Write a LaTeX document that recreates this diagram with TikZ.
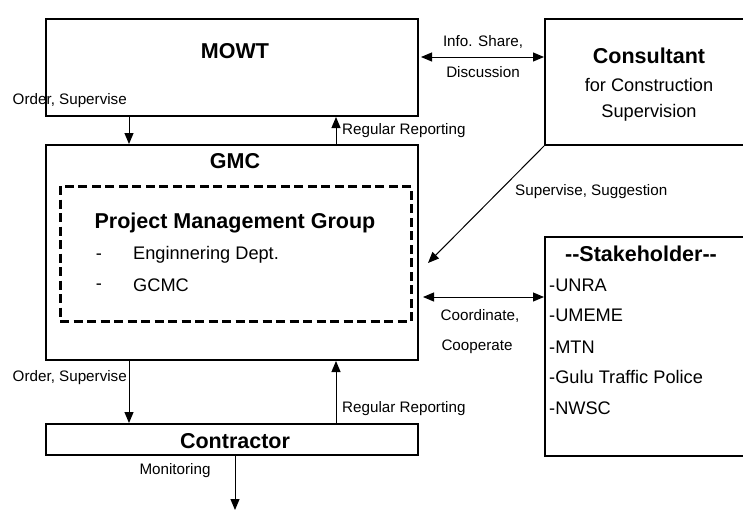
\documentclass[tikz,border=0pt]{standalone}
\usepackage{fontspec}
\setmainfont{Liberation Sans}
\usetikzlibrary{arrows.meta}
\begin{document}
\begin{tikzpicture}[x=1pt,y=-1pt,
  box/.style={draw, line width=2pt, inner sep=0pt},
  pmgbox/.style={draw, line width=3pt, dash pattern=on 9pt off 4.5pt, inner sep=0pt},
  title/.style={font=\bfseries\fontsize{21.5}{25}\selectfont, inner sep=0pt},
  body/.style={font=\fontsize{18.2}{21}\selectfont, inner sep=0pt},
  lab/.style={font=\fontsize{15.2}{18}\selectfont, inner sep=0pt},
  arr/.style={-{Triangle[length=11pt,width=9pt]}, line width=1pt},
  darr/.style={{Triangle[length=11pt,width=9pt]}-{Triangle[length=11pt,width=9pt]}, line width=1pt}
]
\useasboundingbox (0,0) rectangle (743,509);
\clip (0,0) rectangle (743,509);

% boxes
\node[box, minimum width=372pt, minimum height=97pt]  (mowt)  at (232,67.5)  {};
\node[box, minimum width=372pt, minimum height=215pt] (gmc)   at (232,252.5) {};
\node[pmgbox, minimum width=351pt, minimum height=135pt] (pmg) at (235.5,253.5) {};
\node[box, minimum width=372pt, minimum height=31pt]  (contr) at (232,439.5) {};
\node[box, minimum width=225pt, minimum height=126pt] (cons)  at (657.5,82)  {};
\node[box, minimum width=225pt, minimum height=219pt] (stake) at (657.5,346.5) {};

% box texts
\node[title] (tmowt) at (235,51) {MOWT};
\node[title] (tgmc) at (235,161) {GMC};
\node[title] (tpmg) at (235,223) {Project Management Group};
\node[body] (d1) at (99,257) {-};
\node[body, anchor=west] (e1) at (133,255) {Enginnering Dept.};
\node[body] (d2) at (99,287) {-};
\node[body, anchor=west] (e2) at (133,285) {GCMC};
\node[title] (tcontr) at (235,441) {Contractor};
\node[title] (tcons) at (649,56) {Consultant};
\node[body] (tcons2) at (649,85) {for Construction};
\node[body] (tcons3) at (649,113) {Supervision};
\node[title] (tstake) at (641,254) {-{}-Stakeholder-{}-};
\node[body, anchor=west] (s1) at (549,285) {-UNRA};
\node[body, anchor=west] (s2) at (549,315) {-UMEME};
\node[body, anchor=west] (s3) at (549,347) {-MTN};
\node[body, anchor=west] (s4) at (549,377) {-Gulu Traffic Police};
\node[body, anchor=west] (s5) at (549,408) {-NWSC};

% connectors
\draw[arr] ([xshift=84pt]mowt.south west) -- ([xshift=84pt]gmc.north west);
\draw[arr] ([xshift=291pt]gmc.north west) -- ([xshift=291pt]mowt.south west);
\draw[arr] ([xshift=84pt]gmc.south west) -- ([xshift=84pt]contr.north west);
\draw[arr] ([xshift=291pt]contr.north west) -- ([xshift=291pt]gmc.south west);

\coordinate (info) at ([yshift=10.5pt]mowt.east);
\draw[darr] ([xshift=2pt]info) -- (info -| cons.west);

\coordinate (coop) at ([yshift=-44.5pt]gmc.east);
\draw[darr] ([xshift=4pt]coop) -- (coop -| stake.west);

\coordinate (sugg) at (428,263);
\draw[arr] (cons.south west) -- (sugg);

\coordinate (mon) at (235,510);
\draw[arr] ([xshift=3pt]contr.south) -- (mon);

% connector labels
\node[lab, anchor=east] (l1) at (127,101) {Order, Supervise};
\node[lab, anchor=west] (l2) at (342,131) {Regular Reporting};
\node[lab] (l3) at (483,42) {Info. Share,};
\node[lab] (l4) at (483,72) {Discussion};
\node[lab, anchor=west] (l5) at (515,192) {Supervise, Suggestion};
\node[lab] (l6) at (480,316) {Coordinate,};
\node[lab] (l7) at (477,347) {Cooperate};
\node[lab, anchor=east] (l8) at (127,378) {Order, Supervise};
\node[lab, anchor=west] (l9) at (342,409) {Regular Reporting};
\node[lab] (l10) at (175,471) {Monitoring};
\end{tikzpicture}
\end{document}
